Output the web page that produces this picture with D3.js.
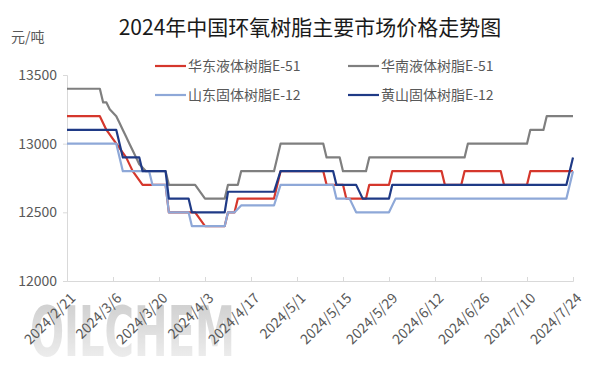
<!DOCTYPE html>
<html>
<head>
<meta charset="utf-8">
<script src="https://cdn.jsdelivr.net/npm/d3@7"></script>
<style>
    body { margin: 0; background: #fff; }
    text { font-family: "Noto Sans CJK SC", "Noto Sans", sans-serif; }
</style>
</head>
<body>
<svg id="chart"></svg>
<script>
// price data, 元/吨 (vertices only)
var huadongE51 = [
    ["2024/2/21", 13200], ["2024/3/2", 13200], ["2024/3/4", 13100], ["2024/3/7", 13000],
    ["2024/3/10", 12900], ["2024/3/12", 12800], ["2024/3/15", 12700], ["2024/3/22", 12700],
    ["2024/3/23", 12500], ["2024/3/31", 12500], ["2024/4/3", 12400], ["2024/4/9", 12400],
    ["2024/4/10", 12500], ["2024/4/12", 12500], ["2024/4/13", 12600], ["2024/4/24", 12600],
    ["2024/4/26", 12800], ["2024/5/9", 12800], ["2024/5/10", 12700], ["2024/5/15", 12700],
    ["2024/5/16", 12600], ["2024/5/22", 12600], ["2024/5/23", 12700], ["2024/5/29", 12700],
    ["2024/5/30", 12800], ["2024/6/14", 12800], ["2024/6/15", 12700], ["2024/6/20", 12700],
    ["2024/6/21", 12800], ["2024/7/2", 12800], ["2024/7/3", 12700], ["2024/7/10", 12700],
    ["2024/7/11", 12800], ["2024/7/24", 12800]
];
var huananE51 = [
    ["2024/2/21", 13400], ["2024/3/2", 13400], ["2024/3/3", 13300], ["2024/3/4", 13300],
    ["2024/3/5", 13250], ["2024/3/7", 13200], ["2024/3/8", 13150], ["2024/3/9", 13100],
    ["2024/3/10", 13050], ["2024/3/11", 13000], ["2024/3/12", 12950], ["2024/3/13", 12900],
    ["2024/3/14", 12850], ["2024/3/16", 12800], ["2024/3/22", 12800], ["2024/3/23", 12700],
    ["2024/3/31", 12700], ["2024/4/3", 12600], ["2024/4/9", 12600], ["2024/4/10", 12700],
    ["2024/4/13", 12700], ["2024/4/14", 12800], ["2024/4/24", 12800], ["2024/4/25", 12900],
    ["2024/4/26", 13000], ["2024/5/9", 13000], ["2024/5/10", 12900], ["2024/5/14", 12900],
    ["2024/5/15", 12800], ["2024/5/22", 12800], ["2024/5/23", 12900], ["2024/6/21", 12900],
    ["2024/6/22", 13000], ["2024/7/10", 13000], ["2024/7/11", 13100], ["2024/7/15", 13100],
    ["2024/7/16", 13200], ["2024/7/24", 13200]
];
var shandongE12 = [
    ["2024/2/21", 13000], ["2024/3/7", 13000], ["2024/3/9", 12800], ["2024/3/17", 12800],
    ["2024/3/18", 12700], ["2024/3/22", 12700], ["2024/3/23", 12500], ["2024/3/29", 12500],
    ["2024/3/30", 12400], ["2024/4/9", 12400], ["2024/4/10", 12500], ["2024/4/12", 12500],
    ["2024/4/14", 12550], ["2024/4/24", 12550], ["2024/4/26", 12700], ["2024/5/12", 12700],
    ["2024/5/13", 12600], ["2024/5/17", 12600], ["2024/5/19", 12500], ["2024/5/29", 12500],
    ["2024/5/31", 12600], ["2024/7/22", 12600], ["2024/7/24", 12800]
];
var huangshanE12 = [
    ["2024/2/21", 13100], ["2024/3/7", 13100], ["2024/3/9", 12900], ["2024/3/14", 12900],
    ["2024/3/15", 12800], ["2024/3/22", 12800], ["2024/3/23", 12600], ["2024/3/29", 12600],
    ["2024/3/30", 12500], ["2024/4/9", 12500], ["2024/4/10", 12650], ["2024/4/24", 12650],
    ["2024/4/26", 12800], ["2024/5/12", 12800], ["2024/5/13", 12700], ["2024/5/19", 12700],
    ["2024/5/21", 12600], ["2024/5/29", 12600], ["2024/5/30", 12700], ["2024/7/22", 12700],
    ["2024/7/24", 12900]
];

var seriesNames = ["华东液体树脂E-51", "华南液体树脂E-51", "山东固体树脂E-12", "黄山固体树脂E-12"];
var seriesColors = ["#D5372C", "#7F7F7F", "#8EA8D8", "#1F3A86"];
var xTickLabels = ["2024/2/21", "2024/3/6", "2024/3/20", "2024/4/3", "2024/4/17", "2024/5/1",
    "2024/5/15", "2024/5/29", "2024/6/12", "2024/6/26", "2024/7/10", "2024/7/24"];
var yTicks = [12000, 12500, 13000, 13500];

var dimensions = {
    width: 597,
    height: 373,
    margin: { top: 75, bottom: 92, right: 24, left: 67 }
};

var parseDate = d3.timeParse("%Y/%m/%d");
var allSeries = [huadongE51, huananE51, shandongE12, huangshanE12].map(s =>
    s.map(d => ({ date: parseDate(d[0]), value: d[1] })));

var svg = d3.select("#chart")
    .attr("width", dimensions.width)
    .attr("height", dimensions.height)
    .style("background-color", "white");

// watermark
var grad = svg.append("defs").append("linearGradient")
    .attr("id", "wm").attr("x1", 0).attr("y1", 0).attr("x2", 0).attr("y2", 1);
grad.append("stop").attr("offset", "0%").attr("stop-color", "#b8b8b8");
grad.append("stop").attr("offset", "100%").attr("stop-color", "#f2f2f2");
svg.append("text")
    .attr("x", 30)
    .attr("y", 356)
    .attr("textLength", 205)
    .attr("lengthAdjust", "spacingAndGlyphs")
    .style("font-family", "DejaVu Sans")
    .style("font-weight", "bold")
    .style("font-size", "70px")
    .attr("fill", "url(#wm)")
    .attr("opacity", 0.75)
    .text("OILCHEM");

var xScale = d3.scaleTime()
    .domain([parseDate(xTickLabels[0]), parseDate(xTickLabels[xTickLabels.length - 1])])
    .range([dimensions.margin.left, dimensions.width - dimensions.margin.right]);

var yScale = d3.scaleLinear()
    .domain([12000, 13500])
    .range([dimensions.height - dimensions.margin.bottom, dimensions.margin.top]);

var bottomY = yScale(12000);

// title + unit
svg.append("text")
    .attr("x", 310)
    .attr("y", 35)
    .attr("text-anchor", "middle")
    .style("font-size", "21px")
    .attr("fill", "#1a1a1a")
    .text("2024年中国环氧树脂主要市场价格走势图");

svg.append("text")
    .attr("x", 11)
    .attr("y", 42)
    .style("font-size", "14px")
    .attr("fill", "#595959")
    .text("元/吨");

// y axis
var yAxis = svg.append("g")
    .attr("transform", `translate(${dimensions.margin.left},0)`)
    .call(d3.axisLeft(yScale).tickValues(yTicks).tickSize(4).tickPadding(6).tickFormat(d3.format("d")));
yAxis.select(".domain").attr("stroke", "#d9d9d9");
yAxis.selectAll(".tick line").attr("stroke", "#d9d9d9");
yAxis.selectAll("text")
    .attr("fill", "#595959")
    .style("font-size", "14px");

// x axis
var xAxis = svg.append("g")
    .attr("transform", `translate(0,${bottomY})`)
    .call(d3.axisBottom(xScale)
        .tickValues(xTickLabels.map(parseDate))
        .tickSize(-4)
        .tickFormat(d3.timeFormat("%Y/%-m/%-d")));
xAxis.select(".domain").attr("stroke", "#d9d9d9");
xAxis.selectAll(".tick line").attr("stroke", "#d9d9d9");
xAxis.selectAll("text")
    .attr("fill", "#595959")
    .style("font-size", "14px")
    .attr("text-anchor", "end")
    .attr("dy", null)
    .attr("y", 0)
    .attr("transform", "translate(9,18) rotate(-45)");

// lines
var line = d3.line()
    .x(d => xScale(d.date))
    .y(d => yScale(d.value));

svg.selectAll(".price-line")
    .data(allSeries)
    .enter()
    .append("path")
    .attr("class", "price-line")
    .attr("d", d => line(d))
    .attr("fill", "none")
    .attr("stroke", (d, i) => seriesColors[i])
    .attr("stroke-width", 2.2)
    .attr("stroke-linejoin", "round");

// legend
var legendPos = [[155, 66], [348, 66], [155, 95], [348, 95]];
var legend = svg.selectAll(".legend")
    .data(seriesNames)
    .enter()
    .append("g")
    .attr("class", "legend")
    .attr("transform", (d, i) => `translate(${legendPos[i][0]},${legendPos[i][1]})`);

legend.append("line")
    .attr("x1", 0)
    .attr("x2", 31)
    .attr("stroke", (d, i) => seriesColors[i])
    .attr("stroke-width", 2.2);

legend.append("text")
    .attr("x", 33)
    .attr("dy", "0.35em")
    .style("font-size", "14px")
    .attr("fill", "#595959")
    .text(d => d);
</script>
</body>
</html>
